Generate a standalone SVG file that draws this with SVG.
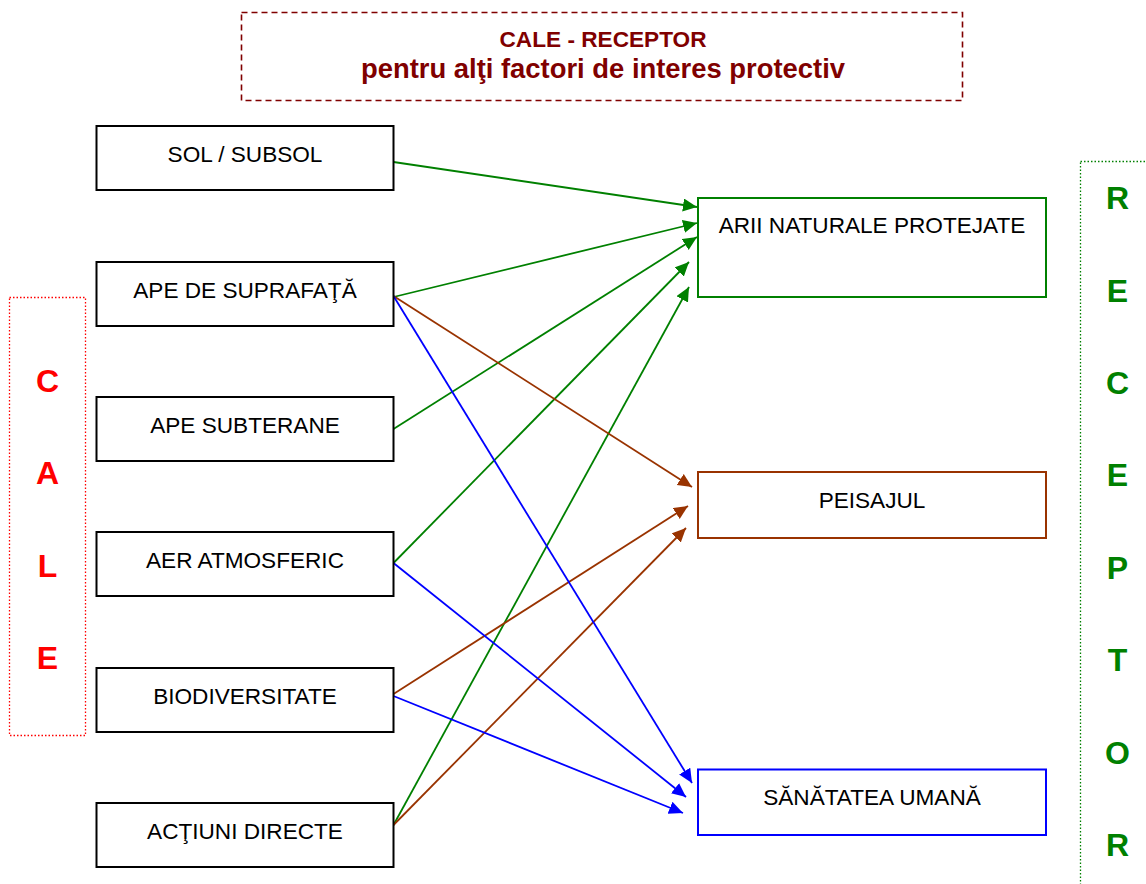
<svg xmlns="http://www.w3.org/2000/svg" width="1146" height="884" viewBox="0 0 1146 884">
<style>
.lbl{font-family:"Liberation Sans",Arial,sans-serif;font-size:22.6px;fill:#000;text-anchor:middle}
.src{fill:#fff;stroke:#000;stroke-width:2}
.big{font-family:"Liberation Sans",Arial,sans-serif;font-size:32px;font-weight:bold;text-anchor:middle}
.ttl{font-family:"Liberation Sans",Arial,sans-serif;font-weight:bold;fill:#800000;text-anchor:middle}
.g{stroke:#008000;stroke-width:1.8;fill:none;marker-end:url(#ag)}
.b{stroke:#993300;stroke-width:1.8;fill:none;marker-end:url(#ab)}
.u{stroke:#0000ff;stroke-width:1.8;fill:none;marker-end:url(#au)}
</style>
<defs>
<marker id="ag" markerUnits="userSpaceOnUse" markerWidth="16" markerHeight="14" refX="14" refY="6.5" orient="auto" viewBox="0 0 16 14"><path d="M0,0 L14,6.5 L0,13 Z" fill="#008000"/></marker>
<marker id="ab" markerUnits="userSpaceOnUse" markerWidth="16" markerHeight="14" refX="14" refY="6.5" orient="auto" viewBox="0 0 16 14"><path d="M0,0 L14,6.5 L0,13 Z" fill="#993300"/></marker>
<marker id="au" markerUnits="userSpaceOnUse" markerWidth="16" markerHeight="14" refX="14" refY="6.5" orient="auto" viewBox="0 0 16 14"><path d="M0,0 L14,6.5 L0,13 Z" fill="#0000ff"/></marker>
</defs>
<rect width="1146" height="884" fill="#fff"/>

<g id="title">
<rect x="241.5" y="12.5" width="721" height="88" fill="none" stroke="#800000" stroke-width="1.6" stroke-dasharray="6,4"/>
<text class="ttl" x="603" y="47" font-size="22" textLength="207" lengthAdjust="spacingAndGlyphs">CALE - RECEPTOR</text>
<text class="ttl" x="603" y="78" font-size="27" textLength="484" lengthAdjust="spacingAndGlyphs">pentru alţi factori de interes protectiv</text>
</g>

<g id="cale">
<rect x="9.5" y="297.5" width="76" height="438" fill="none" stroke="#ff0000" stroke-width="1.3" stroke-dasharray="1.5,2"/>
<text class="big" fill="#ff0000" x="47.5" y="392">C</text>
<text class="big" fill="#ff0000" x="47.5" y="484">A</text>
<text class="big" fill="#ff0000" x="47.5" y="577">L</text>
<text class="big" fill="#ff0000" x="47.5" y="669">E</text>
</g>

<g id="receptor">
<rect x="1080.5" y="161.5" width="90" height="760" fill="none" stroke="#008000" stroke-width="1.3" stroke-dasharray="1.5,2"/>
<text class="big" fill="#008000" x="1117.5" y="209">R</text>
<text class="big" fill="#008000" x="1117.5" y="301.5">E</text>
<text class="big" fill="#008000" x="1117.5" y="394">C</text>
<text class="big" fill="#008000" x="1117.5" y="486">E</text>
<text class="big" fill="#008000" x="1117.5" y="579">P</text>
<text class="big" fill="#008000" x="1117.5" y="671">T</text>
<text class="big" fill="#008000" x="1117.5" y="763.5">O</text>
<text class="big" fill="#008000" x="1117.5" y="856">R</text>
</g>

<g id="connectors">
<line class="g" x1="393.5" y1="162" x2="697" y2="207"/>
<line class="g" x1="393.5" y1="297" x2="697" y2="223"/>
<line class="g" x1="393.5" y1="429" x2="697" y2="237"/>
<line class="g" x1="393.5" y1="563" x2="689" y2="262"/>
<line class="g" x1="393.5" y1="825" x2="689" y2="287"/>
<line class="b" x1="393.5" y1="296" x2="692" y2="487"/>
<line class="b" x1="393.5" y1="694" x2="688" y2="506"/>
<line class="b" x1="393.5" y1="825" x2="686" y2="528"/>
<line class="u" x1="393.5" y1="296" x2="692" y2="783"/>
<line class="u" x1="393.5" y1="563" x2="686" y2="797"/>
<line class="u" x1="393.5" y1="696" x2="683" y2="813"/>
</g>

<g id="sol"><rect class="src" x="96.5" y="126" width="297" height="64"/><text class="lbl" x="245" y="162">SOL / SUBSOL</text></g>
<g id="ape-suprafata"><rect class="src" x="96.5" y="262" width="297" height="64"/><text class="lbl" x="245" y="298">APE DE SUPRAFAŢĂ</text></g>
<g id="ape-subterane"><rect class="src" x="96.5" y="397" width="297" height="64"/><text class="lbl" x="245" y="433">APE SUBTERANE</text></g>
<g id="aer"><rect class="src" x="96.5" y="532" width="297" height="64"/><text class="lbl" x="245" y="568">AER ATMOSFERIC</text></g>
<g id="biodiversitate"><rect class="src" x="96.5" y="668" width="297" height="64"/><text class="lbl" x="245" y="704">BIODIVERSITATE</text></g>
<g id="actiuni"><rect class="src" x="96.5" y="803" width="297" height="64"/><text class="lbl" x="245" y="839">ACŢIUNI DIRECTE</text></g>

<g id="arii"><rect x="698" y="198" width="348" height="99" fill="#fff" stroke="#008000" stroke-width="2"/><text class="lbl" x="872" y="233">ARII NATURALE PROTEJATE</text></g>
<g id="peisajul"><rect x="698" y="472" width="348" height="66" fill="#fff" stroke="#993300" stroke-width="2"/><text class="lbl" x="872" y="508">PEISAJUL</text></g>
<g id="sanatatea"><rect x="698" y="769.5" width="348" height="65.5" fill="#fff" stroke="#0000ff" stroke-width="2"/><text class="lbl" x="872" y="805">SĂNĂTATEA UMANĂ</text></g>
</svg>
